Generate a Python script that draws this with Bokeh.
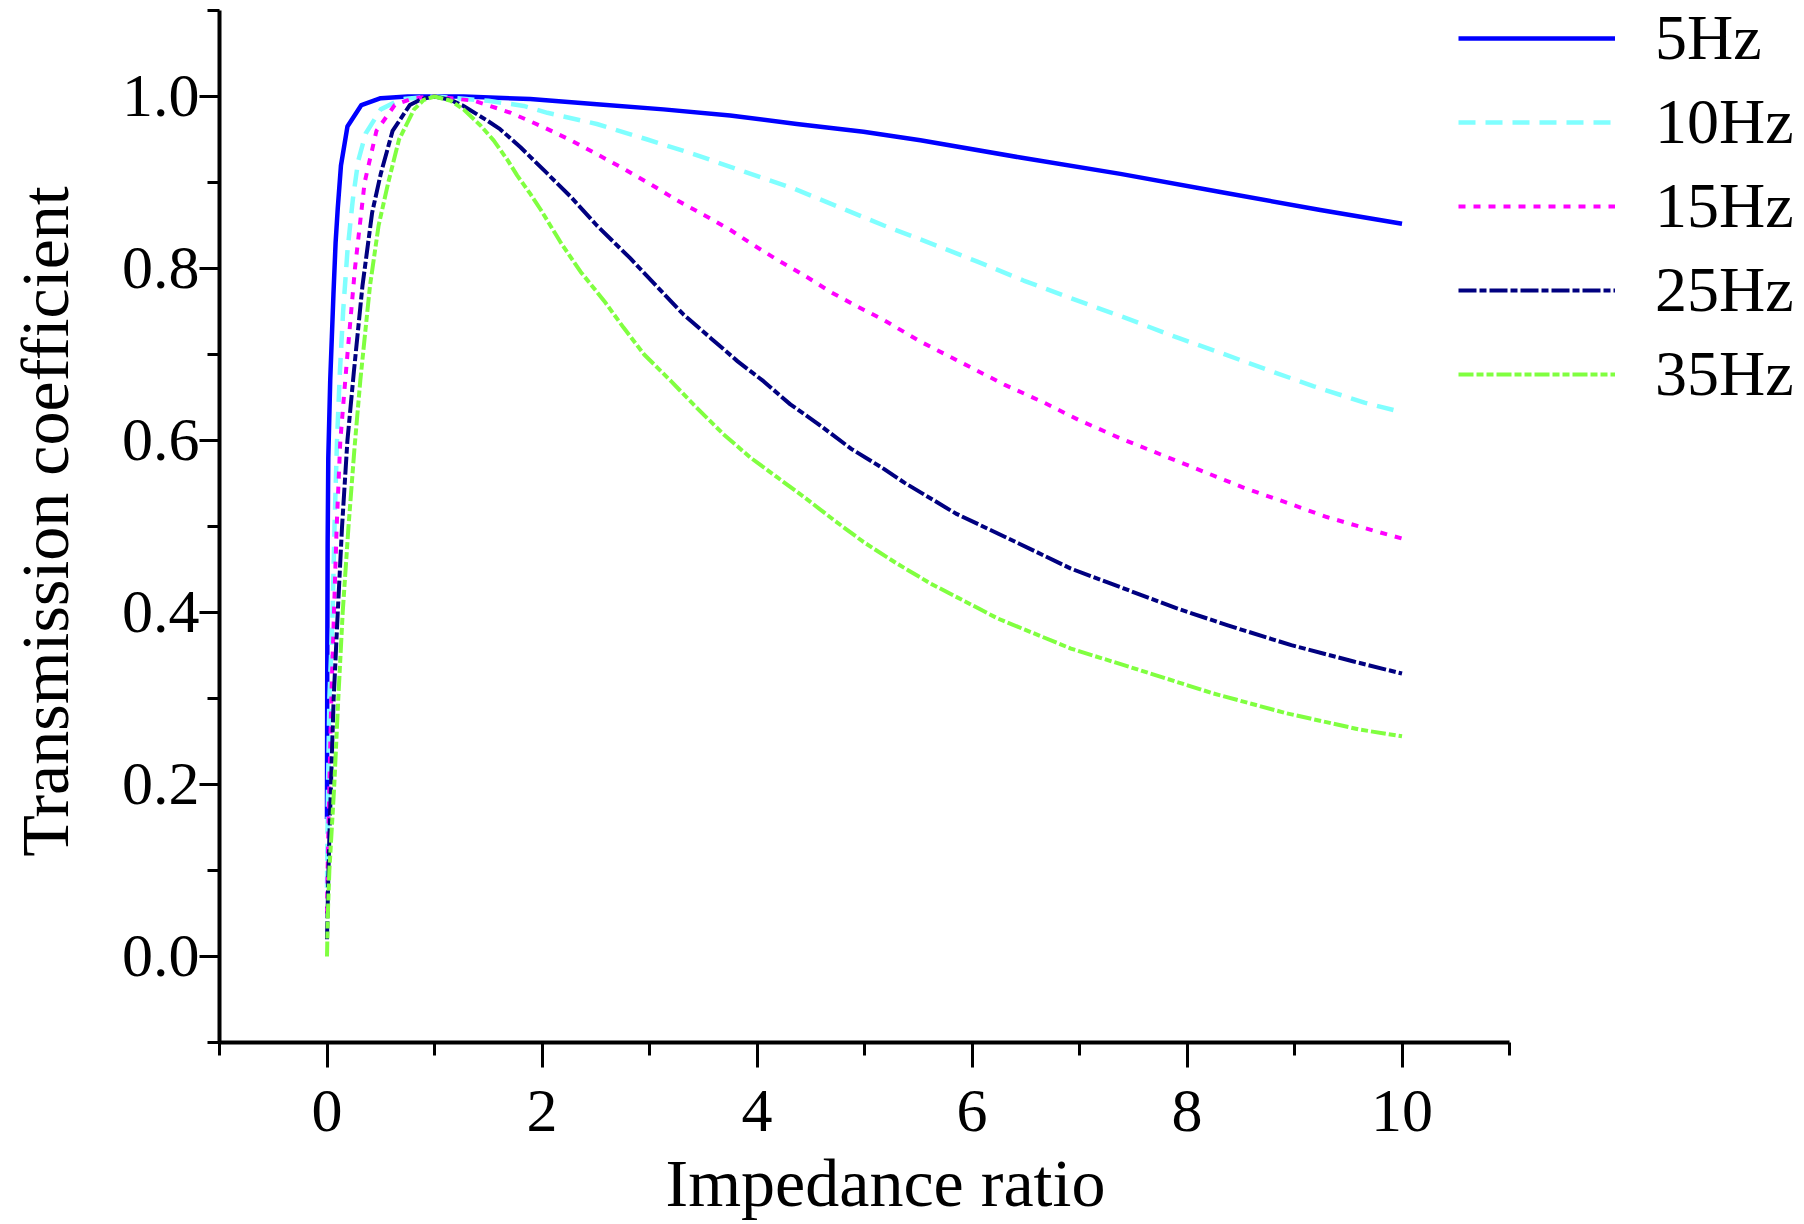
from bokeh.plotting import figure
from bokeh.models import Range1d, FixedTicker, Legend, LegendItem, PrintfTickFormatter, Title
from bokeh.embed import file_html
from bokeh.resources import INLINE

# ---- data ----
x_5hz = [0.0, 0.002, 0.006, 0.012, 0.02, 0.03, 0.045, 0.06, 0.08, 0.1, 0.13, 0.19,
         0.32, 0.5, 0.75, 1.0, 1.27, 1.89, 2.51, 3.13, 3.75, 4.37, 4.99, 5.52, 6.45,
         7.38, 8.31, 9.24, 10.0]
y_5hz = [0.16, 0.32, 0.48, 0.58, 0.62, 0.67, 0.72, 0.77, 0.83, 0.87, 0.92, 0.965,
         0.99, 0.998, 1.0, 1.0, 1.0, 0.997, 0.991, 0.985, 0.978, 0.968, 0.959, 0.949, 0.929,
         0.910, 0.889, 0.868, 0.852]

x_10hz = [0.0, 0.004, 0.01, 0.022, 0.05, 0.07, 0.093, 0.12, 0.15, 0.19, 0.24, 0.29,
          0.36, 0.5, 0.69, 1.0, 1.5, 1.83, 2.05, 2.51, 2.98, 3.41, 3.85, 4.34, 4.75,
          5.18, 5.58, 6.05, 6.48, 6.95, 7.44, 7.88, 8.31, 8.75, 9.18, 9.65, 10.0]
y_10hz = [0.08, 0.14, 0.2, 0.3, 0.39, 0.5, 0.6, 0.68, 0.75, 0.82, 0.88, 0.925,
          0.957, 0.985, 0.997, 1.0, 0.995, 0.989, 0.981, 0.968, 0.950, 0.933, 0.914, 0.893, 0.872,
          0.850, 0.831, 0.808, 0.786, 0.764, 0.742, 0.721, 0.702, 0.682, 0.663, 0.644, 0.633]

x_15hz = [0.0, 0.004, 0.01, 0.022, 0.04, 0.065, 0.09, 0.124, 0.16, 0.19, 0.26, 0.35,
          0.46, 0.63, 0.8, 1.0, 1.37, 1.71, 2.02, 2.27, 2.51, 2.76, 3.01, 3.26, 3.51, 3.75,
          3.97, 4.19, 4.44, 4.68, 4.93, 5.18, 5.52, 5.91, 6.30, 6.67, 6.99, 7.37, 7.75,
          8.13, 8.53, 8.92, 9.30, 9.74, 10.0]
y_15hz = [0.05, 0.09, 0.13, 0.2, 0.3, 0.4, 0.5, 0.6, 0.655, 0.70, 0.80, 0.9,
          0.96, 0.99, 0.998, 1.0, 0.995, 0.981, 0.964, 0.949, 0.933, 0.916, 0.898, 0.879, 0.862, 0.845,
          0.827, 0.810, 0.792, 0.773, 0.756, 0.740, 0.715, 0.690, 0.665, 0.644, 0.624, 0.603, 0.584,
          0.565, 0.545, 0.528, 0.511, 0.495, 0.486]

x_25hz = [0.0, 0.01, 0.02, 0.037, 0.062, 0.1, 0.14, 0.19, 0.25, 0.33, 0.42, 0.5, 0.61,
          0.77, 0.88, 1.0, 1.15, 1.27, 1.49, 1.61, 1.80, 2.02, 2.27, 2.51, 2.82, 3.07, 3.32,
          3.57, 3.82, 4.06, 4.31, 4.56, 4.88, 5.18, 5.37, 5.85, 6.44, 6.92, 7.41, 7.90,
          8.38, 8.97, 9.55, 10.0]
y_25hz = [0.02, 0.08, 0.13, 0.2, 0.3, 0.4, 0.5, 0.6, 0.68, 0.78, 0.865, 0.91, 0.96,
          0.99, 0.997, 1.0, 0.996, 0.989, 0.972, 0.962, 0.941, 0.914, 0.883, 0.850, 0.812, 0.779, 0.746,
          0.719, 0.692, 0.669, 0.642, 0.620, 0.590, 0.567, 0.551, 0.515, 0.480, 0.451, 0.428, 0.405,
          0.385, 0.362, 0.343, 0.329]

x_35hz = [0.0, 0.008, 0.022, 0.068, 0.105, 0.146, 0.2, 0.255, 0.31, 0.4, 0.48, 0.57, 0.67,
          0.81, 0.9, 1.0, 1.15, 1.27, 1.43, 1.55, 1.68, 1.77, 1.89, 1.99, 2.17, 2.36, 2.58,
          2.76, 2.95, 3.20, 3.44, 3.69, 3.94, 4.19, 4.44, 4.72, 4.99, 5.30, 5.61, 6.24, 6.92,
          7.56, 8.24, 8.92, 9.60, 10.0]
y_35hz = [0.0, 0.05, 0.1, 0.2, 0.3, 0.4, 0.5, 0.59, 0.67, 0.78, 0.85, 0.9, 0.95,
          0.985, 0.996, 1.0, 0.995, 0.985, 0.966, 0.949, 0.926, 0.908, 0.887, 0.868, 0.831, 0.796, 0.762,
          0.731, 0.700, 0.669, 0.638, 0.607, 0.580, 0.557, 0.534, 0.507, 0.482, 0.457, 0.434, 0.393, 0.358,
          0.333, 0.306, 0.283, 0.264, 0.256]

series_labels = ["5Hz", "10Hz", "15Hz", "25Hz", "35Hz"]
x_ticks = [0, 2, 4, 6, 8, 10]
x_minor = [-1, 1, 3, 5, 7, 9, 11]
y_ticks = [0.0, 0.2, 0.4, 0.6, 0.8, 1.0]
y_minor = [-0.1, 0.1, 0.3, 0.5, 0.7, 0.9, 1.1]

FONT = "Liberation Serif"

p = figure(width=1804, height=1224, output_backend="svg", toolbar_location=None,
           x_range=Range1d(-1, 13.744), y_range=Range1d(-0.1, 1.1116),
           min_border_left=219, min_border_right=0, min_border_top=0,
           min_border_bottom=182)
p.outline_line_color = None
p.xgrid.visible = False
p.ygrid.visible = False
p.background_fill_color = "white"
p.border_fill_color = "white"

styles = [
    dict(color="#0000FF", line_width=4.5, line_dash="solid"),
    dict(color="#80FFFF", line_width=4.5, line_dash="17 10"),
    dict(color="#FF00FF", line_width=4, line_dash="7 8"),
    dict(color="#000080", line_width=4, line_dash="18 3 7 3"),
    dict(color="#80FF40", line_width=4, line_dash="15 3 7 3 7 3"),
]
xs = [x_5hz, x_10hz, x_15hz, x_25hz, x_35hz]
ys = [y_5hz, y_10hz, y_15hz, y_25hz, y_35hz]
renderers = []
for xv, yv, st in zip(xs, ys, styles):
    r = p.line(xv, yv, line_color=st["color"], line_width=st["line_width"],
               line_dash=st["line_dash"], line_join="round")
    renderers.append(r)

# axes
p.xaxis.bounds = (-1, 11)
p.yaxis.bounds = (-0.1, 1.1)
p.xaxis.ticker = FixedTicker(ticks=x_ticks, minor_ticks=x_minor)
p.yaxis.ticker = FixedTicker(ticks=y_ticks, minor_ticks=y_minor)
p.xaxis.formatter = PrintfTickFormatter(format="%d")
p.yaxis.formatter = PrintfTickFormatter(format="%.1f")
for ax in (p.xaxis, p.yaxis):
    ax.axis_line_width = 4
    ax.axis_line_color = "black"
    ax.major_tick_line_width = 3
    ax.minor_tick_line_width = 3
    ax.major_tick_in = 0
    ax.minor_tick_in = 0
    ax.major_label_text_font = FONT
    ax.major_label_text_font_size = "62px"
    ax.major_label_text_color = "black"
p.xaxis.major_tick_out = 25
p.xaxis.minor_tick_out = 13
p.xaxis.major_label_standoff = 23
p.yaxis.major_tick_out = 20
p.yaxis.minor_tick_out = 12
p.yaxis.major_label_standoff = 0

p.yaxis.axis_label = "Transmission coefficient"
p.yaxis.axis_label_text_font = FONT
p.yaxis.axis_label_text_font_size = "68px"
p.yaxis.axis_label_text_font_style = "normal"
p.yaxis.axis_label_text_color = "black"
p.yaxis.axis_label_standoff = 36

# x-axis title placed below the axis, shifted to match the reference
xtitle = Title(text="Impedance ratio", align="left", offset=446, vertical_align="top",
               standoff=0, padding=(0, 0, 11, 0), text_font=FONT, text_font_size="68px",
               text_font_style="normal", text_color="black")
p.add_layout(xtitle, "below")

legend = Legend(items=[LegendItem(label=lab, renderers=[r])
                       for lab, r in zip(series_labels, renderers)],
                location=(1239, 626), orientation="vertical",
                padding=0, spacing=0, margin=0,
                glyph_width=157, glyph_height=84, label_height=84,
                label_standoff=40, label_text_font=FONT,
                label_text_font_size="64px", label_text_color="black",
                border_line_alpha=0, background_fill_alpha=0)
p.add_layout(legend)

open("out.html", "w").write(file_html(p, INLINE))
